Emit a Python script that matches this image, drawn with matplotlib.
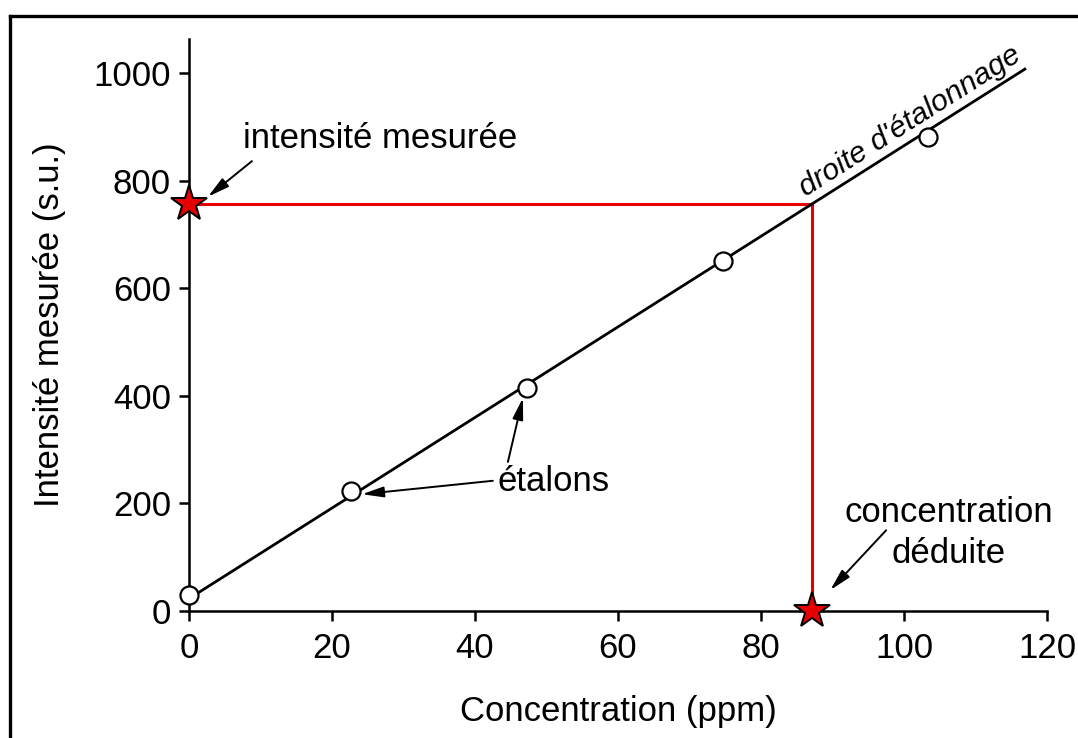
import matplotlib
matplotlib.use("Agg")
import matplotlib.pyplot as plt
from matplotlib.lines import Line2D

plt.rcParams['font.family'] = ['Liberation Sans', 'DejaVu Sans']

# étalons (standards)
std_conc = [0, 22.7, 47.3, 74.7, 103.4]
std_int = [30, 223, 414, 650, 881]

# droite d'étalonnage (end points)
line_x = [0, 116.9]
line_y = [23, 1007]

# mesure
meas_int = 756
deduced_conc = 87.1

xticks = [0, 20, 40, 60, 80, 100, 120]
yticks = [0, 200, 400, 600, 800, 1000]

fig = plt.figure(figsize=(10.78, 7.38), dpi=100)
ax = fig.add_axes([189/1078, 127/738, 858/1078, 572/738])

red = '#e60000'
fs = 25

ax.plot(line_x, line_y, color='black', lw=2.0, zorder=3)
ax.plot([0, deduced_conc], [meas_int, meas_int], color=red, lw=2.2, zorder=2)
ax.plot([deduced_conc, deduced_conc], [meas_int, 0], color=red, lw=2.2, zorder=2)
ax.plot(std_conc, std_int, 'o', ms=13, mfc='white', mec='black', mew=1.6,
        zorder=4, clip_on=False)
ax.plot([0], [meas_int], '*', ms=27, mfc=red, mec='black', mew=1.4,
        zorder=5, clip_on=False)
ax.plot([deduced_conc], [0], '*', ms=27, mfc=red, mec='black', mew=1.4,
        zorder=5, clip_on=False)

ax.set_xlim(0, 120)
ax.set_ylim(0, 1063)
ax.set_xticks(xticks)
ax.set_yticks(yticks)
ax.spines['top'].set_visible(False)
ax.spines['right'].set_visible(False)
for s in ['left', 'bottom']:
    ax.spines[s].set_linewidth(1.8)
ax.tick_params(direction='out', length=7, width=1.8, labelsize=fs)
ax.tick_params(axis='x', pad=8)
ax.tick_params(axis='y', pad=6)
ax.set_xlabel('Concentration (ppm)', fontsize=fs, labelpad=22)
ax.set_ylabel('Intensité mesurée (s.u.)', fontsize=fs, labelpad=20)

arrow = dict(arrowstyle='-|>,head_length=1.3,head_width=0.32', color='black',
             lw=1.4, shrinkA=0, shrinkB=0)

ax.text(7.55, 879, 'intensité mesurée', fontsize=fs, ha='left', va='center')
ax.annotate('', xy=(2.66, 770), xytext=(8.8, 836), arrowprops=arrow,
            annotation_clip=False)

ax.text(43.2, 240, 'étalons', fontsize=fs, ha='left', va='center')
ax.annotate('', xy=(24.2, 217), xytext=(42.5, 242), arrowprops=arrow)
ax.annotate('', xy=(46.7, 396), xytext=(44.6, 277), arrowprops=arrow)

ax.text(106.2, 145, 'concentration\ndéduite', fontsize=fs, ha='center',
        va='center', linespacing=1.3)
ax.annotate('', xy=(89.7, 39), xytext=(97.5, 150), arrowprops=arrow)

ax.text(86.2, 770, "droite d'étalonnage", fontsize=21.8, style='italic',
        rotation=32.4, rotation_mode='anchor', ha='left', va='baseline')

# cadre
fig.add_artist(Line2D([10/1078, 1], [1 - 16/738, 1 - 16/738], color='black',
                      lw=2.4, transform=fig.transFigure))
fig.add_artist(Line2D([10/1078, 10/1078], [0, 1 - 16/738], color='black',
                      lw=2.4, transform=fig.transFigure))

fig.savefig('out.png', dpi=100)
